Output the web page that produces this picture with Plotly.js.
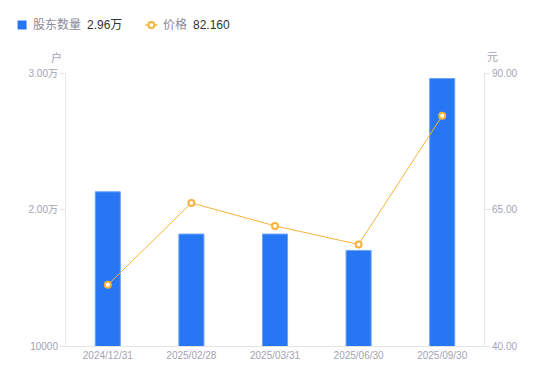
<!DOCTYPE html>
<html><head><meta charset="utf-8">
<script src="https://cdn.plot.ly/plotly-3.0.1.min.js"></script>
<style>html,body{margin:0;padding:0;background:#fff}#c{width:550px;height:381px}</style>
</head><body><div id="c"></div>
<script>
const categories = ["2024/12/31","2025/02/28","2025/03/31","2025/06/30","2025/09/30"];
const holders = [21300, 18200, 18200, 17000, 29600];
const prices = [51.2, 66.2, 62.0, 58.6, 82.16];
const leftTickVals = [10000, 20000, 30000];
const leftTickText = ["10000", "2.00万", "3.00万"];
const rightTickVals = [40, 65, 90];
const rightTickText = ["40.00", "65.00", "90.00"];
const seriesNames = ["股东数量", "价格"];
const latestText = ["2.96万", "82.160"];

const font = "'Liberation Sans', Arial, 'Noto Sans CJK SC', sans-serif";
const gray = "#a3a3b3";
const blue = "#2777f5";
const orange = "#f7b23b";

const W = 550, H = 381, L = 65.5, R = 66, T = 73, B = 35;
const pw = W - L - R, ph = H - T - B;
const px = x => (x - L) / pw;
const py = y => (H - B - y) / ph;

const traces = [
  {type:"bar", x:categories, y:holders, name:seriesNames[0], showlegend:false,
   marker:{color:blue, line:{color:"#6aa3f8", width:1}}, width:0.3, yaxis:"y"},
  {type:"scatter", mode:"lines+markers", x:categories, y:prices, name:seriesNames[1], showlegend:false,
   line:{color:orange, width:1}, marker:{symbol:"circle", size:6, color:"#fff", line:{color:orange, width:2}}, yaxis:"y2"}
];

const ann = (text, x, y, opts) => Object.assign({text, xref:"paper", yref:"paper", x:px(x), y:py(y),
  xanchor:"left", yanchor:"middle", showarrow:false, font:{size:12, color:"#8a8a99", family:font}}, opts||{});

const layout = {
  width:W, height:H,
  margin:{l:L, r:R, t:T, b:B},
  paper_bgcolor:"#fff", plot_bgcolor:"#fff",
  font:{family:font, size:10, color:gray},
  showlegend:false,
  xaxis:{type:"category", showgrid:false, showline:true, linecolor:"#e3e3e3", ticks:"",
         tickfont:{size:10, color:gray}, zeroline:false},
  yaxis:{range:[10000,30000], tickvals:leftTickVals, ticktext:leftTickText, showgrid:false,
         showline:true, linecolor:"#e6e6e6", ticks:"outside", ticklen:5, tickcolor:"#e6e6e6",
         tickfont:{size:10, color:gray}, zeroline:false},
  yaxis2:{range:[40,90], tickvals:rightTickVals, ticktext:rightTickText, overlaying:"y", side:"right",
          showgrid:false, showline:true, linecolor:"#e6e6e6", ticks:"outside", ticklen:5, tickcolor:"#e6e6e6",
          tickfont:{size:10, color:gray}, zeroline:false},
  shapes:[
    {type:"rect", xref:"paper", yref:"paper", x0:px(17), x1:px(26), y0:py(29.5), y1:py(20.5), fillcolor:blue, line:{width:0}},
    {type:"line", xref:"paper", yref:"paper", x0:px(145), x1:px(157), y0:py(25), y1:py(25), line:{color:orange, width:1.5}},
    {type:"circle", xref:"paper", yref:"paper", x0:px(148), x1:px(154), y0:py(28), y1:py(22), fillcolor:"#fff", line:{color:orange, width:2}}
  ],
  annotations:[
    ann(seriesNames[0], 30, 25),
    ann(latestText[0], 85, 25, {font:{size:12, color:"#333", family:font}}),
    ann(seriesNames[1], 161, 25),
    ann(latestText[1], 191, 25, {font:{size:12, color:"#333", family:font}}),
    ann("户", 63, 57, {xanchor:"right", font:{size:11, color:gray, family:font}}),
    ann("元", 485, 57, {font:{size:11, color:gray, family:font}})
  ]
};
Plotly.newPlot("c", traces, layout, {displayModeBar:false, staticPlot:true});
</script></body></html>
